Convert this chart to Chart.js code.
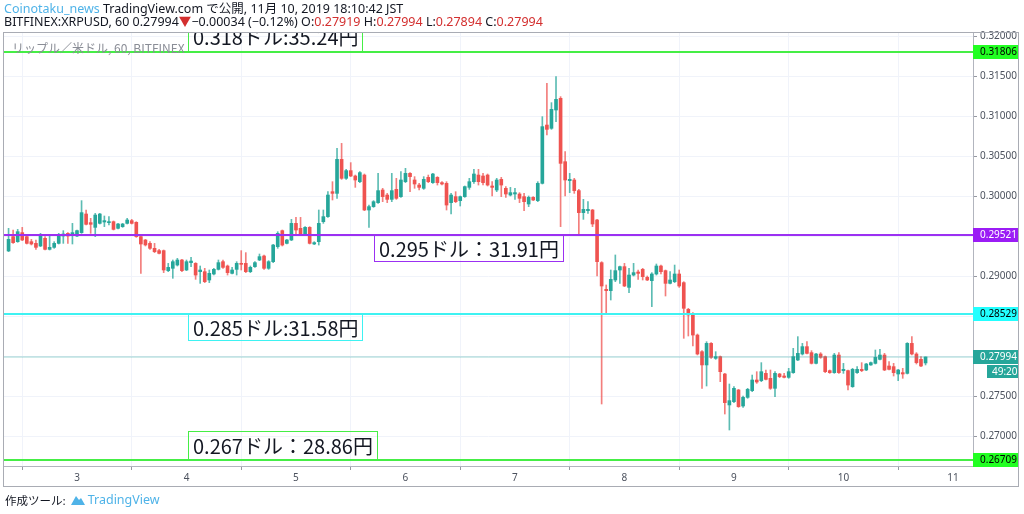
<!DOCTYPE html>
<html>
<head>
<meta charset="utf-8">
<script src="https://cdn.jsdelivr.net/npm/chart.js@4.4.0/dist/chart.umd.min.js"></script>
<style>
  body { margin: 0; background: #fff; }
  #wrap { position: relative; width: 1024px; height: 514px; overflow: hidden;
          font-family: "Noto Sans", "Noto Sans CJK JP", sans-serif; }
  #chart { position: absolute; left: 0; top: 0; }
  .line { position: absolute; left: 4px; font-size: 12.5px; line-height: 13px; color: #131722; white-space: nowrap; }
  .blue { color: #4fb3e8; }
  .red { color: #d32f2f; }
  .pane-title { position: absolute; left: 12px; top: 39px; font-size: 12px; color: #8a8d96; white-space: nowrap;
                font-family: "Noto Sans CJK JP", sans-serif; }
  .footer { position: absolute; left: 5px; top: 491px; font-size: 11.5px; color: #131722; white-space: nowrap;
            font-family: "Noto Sans CJK JP", sans-serif; display: flex; align-items: center; }
  .footer .tv { font-family: "Noto Sans", sans-serif; font-size: 12.5px; }
  .footer svg { margin: 0 2px 0 4px; }
</style>
</head>
<body>
<div id="wrap">
  <canvas id="chart" width="1024" height="514"></canvas>
  <div class="line" style="top:2px"><span class="blue">Coinotaku_news</span> TradingView.com で公開, 11月 10, 2019 18:10:42 JST</div>
  <div class="line" style="top:15px">BITFINEX:XRPUSD, 60 0.27994<span class="red">▼</span>−0.00034 (−0.12%) O:<span class="red">0.27919</span> H:<span class="red">0.27994</span> L:<span class="red">0.27894</span> C:<span class="red">0.27994</span></div>
  <div class="pane-title">リップル／米ドル, 60, BITFINEX</div>
  <div class="footer">作成ツール:<svg width="16" height="12" viewBox="0 0 16 12"><path d="M1 11 L6 2 L9 6 L11 4 L15 11 Z" fill="#4fb3e8"/></svg><span class="blue tv">TradingView</span></div>
</div>
<script>
// hourly candles, XRP/USD, from Nov 2 09:00 to Nov 10 18:00 (hour offsets from Nov 2 00:00)
const firstHour = 9;

const opens = [
  0.29319,0.29498,0.29435,0.29548,0.29498,0.29435,0.29414,0.29381,0.29477,0.29339,
  0.29364,0.29414,0.29506,0.29539,0.29519,0.29506,0.29548,0.29781,0.29673,0.29614,
  0.29664,0.29681,0.29673,0.29685,0.29602,0.29623,0.29664,0.29698,0.29677,0.29498,
  0.29456,0.29414,0.29352,0.29323,0.29323,0.29073,0.29102,0.29143,0.29206,0.29081,
  0.29173,0.29164,0.29060,0.29060,0.28956,0.29031,0.29089,0.29185,0.29131,0.29039,
  0.29089,0.29164,0.29164,0.29060,0.29123,0.29206,0.29256,0.29102,0.29185,0.29373,
  0.29573,0.29414,0.29456,0.29664,0.29602,0.29531,0.29614,0.29406,0.29435,0.29685,
  0.29748,0.30060,0.30039,0.30464,0.30227,0.30323,0.30256,0.30185,0.30268,0.29831,
  0.29873,0.29923,0.30081,0.30018,0.29964,0.30089,0.29998,0.30185,0.30289,0.30206,
  0.30143,0.30102,0.30239,0.30173,0.30239,0.30173,0.30164,0.29923,0.29998,0.29948,
  0.29998,0.30114,0.30185,0.30268,0.30256,0.30268,0.30131,0.30081,0.30214,0.30102,
  0.30018,0.30031,0.30031,0.29998,0.29906,0.29989,0.29948,0.30164,0.30893,0.30852,
  0.31081,0.31227,0.30435,0.30198,0.30206,0.30073,0.29798,0.29823,0.29831,0.29706,
  0.29173,0.28839,0.28823,0.28956,0.29081,0.29123,0.28864,0.29018,0.29056,0.29089,
  0.28989,0.28948,0.29031,0.29131,0.29073,0.28914,0.28935,0.29031,0.28923,0.28589,
  0.28539,0.28268,0.28060,0.27894,0.28164,0.27977,0.27998,0.27781,0.27394,0.27435,
  0.27581,0.27381,0.27489,0.27573,0.27706,0.27698,0.27789,0.27727,0.27602,0.27781,
  0.27756,0.27739,0.27798,0.27956,0.28031,0.28123,0.28048,0.27914,0.28031,0.27998,
  0.27823,0.27798,0.28018,0.27823,0.27823,0.27623,0.27798,0.27839,0.27831,0.27894,
  0.27914,0.27964,0.28018,0.27881,0.27873,0.27781,0.27798,0.27789,0.28164,0.28031,
  0.27964,0.27919
];
const highs = [
  0.29602,0.29581,0.29589,0.29614,0.29519,0.29464,0.29456,0.29539,0.29498,0.29506,
  0.29435,0.29539,0.29573,0.29548,0.29664,0.29581,0.29948,0.29831,0.29727,0.29789,
  0.29789,0.29756,0.29748,0.29694,0.29664,0.29664,0.29727,0.29714,0.29685,0.29506,
  0.29464,0.29435,0.29414,0.29339,0.29331,0.29164,0.29206,0.29227,0.29214,0.29206,
  0.29239,0.29173,0.29131,0.29102,0.29081,0.29102,0.29206,0.29206,0.29143,0.29114,
  0.29185,0.29323,0.29298,0.29131,0.29185,0.29281,0.29268,0.29198,0.29402,0.29560,
  0.29581,0.29464,0.29714,0.29739,0.29739,0.29623,0.29623,0.29435,0.29831,0.29831,
  0.30060,0.30185,0.30602,0.30664,0.30339,0.30423,0.30268,0.30310,0.30281,0.29893,
  0.29948,0.30289,0.30102,0.30039,0.30289,0.30227,0.30310,0.30352,0.30298,0.30248,
  0.30164,0.30248,0.30268,0.30289,0.30248,0.30185,0.30185,0.30039,0.30060,0.30006,
  0.30131,0.30227,0.30339,0.30339,0.30289,0.30281,0.30185,0.30227,0.30239,0.30123,
  0.30114,0.30102,0.30048,0.30039,0.30006,0.29998,0.30185,0.30998,0.31414,0.31173,
  0.31498,0.31248,0.30560,0.30289,0.30227,0.30089,0.29964,0.29935,0.29839,0.29714,
  0.29185,0.28894,0.29081,0.29269,0.29131,0.29164,0.29102,0.29164,0.29081,0.29102,
  0.29006,0.29048,0.29156,0.29143,0.29081,0.29060,0.29143,0.29081,0.28935,0.28602,
  0.28548,0.28281,0.28073,0.28185,0.28173,0.28060,0.28006,0.27789,0.27656,0.27623,
  0.27589,0.27506,0.27602,0.27768,0.27810,0.27923,0.27831,0.27831,0.27810,0.27789,
  0.27789,0.27852,0.28102,0.28248,0.28164,0.28185,0.28073,0.28039,0.28048,0.28006,
  0.27831,0.28039,0.28048,0.27914,0.27831,0.27852,0.27873,0.27923,0.27914,0.27931,
  0.28081,0.28089,0.28039,0.27935,0.27914,0.27839,0.27852,0.28173,0.28248,0.28048,
  0.27998,0.27994
];
const lows = [
  0.29310,0.29414,0.29427,0.29448,0.29406,0.29394,0.29339,0.29373,0.29331,0.29331,
  0.29352,0.29406,0.29414,0.29414,0.29406,0.29498,0.29539,0.29644,0.29539,0.29498,
  0.29656,0.29623,0.29644,0.29581,0.29594,0.29614,0.29656,0.29656,0.29489,0.29039,
  0.29381,0.29339,0.29298,0.29281,0.29048,0.29060,0.28977,0.29131,0.29060,0.29073,
  0.29123,0.28964,0.28914,0.28923,0.28923,0.29018,0.29081,0.29102,0.29018,0.29031,
  0.29018,0.29081,0.29048,0.29048,0.29114,0.29198,0.29089,0.29089,0.29173,0.29352,
  0.29381,0.29406,0.29448,0.29519,0.29519,0.29523,0.29406,0.29398,0.29393,0.29664,
  0.29739,0.29956,0.29977,0.30214,0.30214,0.30248,0.30114,0.30173,0.29823,0.29614,
  0.29864,0.29914,0.29935,0.29923,0.29935,0.29964,0.29989,0.30173,0.30060,0.30102,
  0.30081,0.30089,0.30173,0.30164,0.30143,0.30143,0.29831,0.29781,0.29923,0.29881,
  0.29989,0.30089,0.30164,0.30143,0.30143,0.30131,0.30006,0.30060,0.29998,0.29989,
  0.30006,0.29964,0.29923,0.29823,0.29873,0.29948,0.29935,0.30156,0.30769,0.30839,
  0.30935,0.29623,0.30006,0.30048,0.30039,0.29519,0.29714,0.29789,0.29623,0.29006,
  0.27406,0.28539,0.28706,0.28935,0.28914,0.28873,0.28798,0.29006,0.28964,0.28956,
  0.28948,0.28623,0.29018,0.29031,0.28756,0.28906,0.28923,0.28864,0.28227,0.28256,
  0.28131,0.28019,0.27602,0.27631,0.27977,0.27964,0.27685,0.27281,0.27081,0.27423,
  0.27364,0.27364,0.27477,0.27560,0.27664,0.27685,0.27706,0.27589,0.27498,0.27735,
  0.27731,0.27727,0.27789,0.27948,0.28018,0.28031,0.27906,0.27906,0.27977,0.27798,
  0.27789,0.27789,0.27789,0.27789,0.27581,0.27614,0.27789,0.27810,0.27823,0.27889,
  0.27906,0.27956,0.27823,0.27831,0.27756,0.27698,0.27727,0.27781,0.28018,0.27906,
  0.27873,0.27894
];
const closes = [
  0.29464,0.29423,0.29560,0.29456,0.29414,0.29406,0.29364,0.29506,0.29339,0.29364,
  0.29414,0.29506,0.29531,0.29506,0.29548,0.29573,0.29798,0.29652,0.29652,0.29768,
  0.29781,0.29698,0.29685,0.29589,0.29656,0.29656,0.29706,0.29664,0.29498,0.29406,
  0.29394,0.29352,0.29310,0.29289,0.29081,0.29114,0.29185,0.29206,0.29073,0.29185,
  0.29193,0.29018,0.29081,0.28935,0.29039,0.29089,0.29173,0.29114,0.29048,0.29081,
  0.29164,0.29152,0.29060,0.29114,0.29173,0.29248,0.29102,0.29185,0.29393,0.29539,
  0.29393,0.29456,0.29664,0.29581,0.29531,0.29614,0.29414,0.29423,0.29664,0.29748,
  0.30018,0.30039,0.30464,0.30227,0.30323,0.30256,0.30206,0.30298,0.29831,0.29873,
  0.29935,0.30073,0.29998,0.29964,0.30073,0.29977,0.30206,0.30289,0.30248,0.30156,
  0.30114,0.30214,0.30185,0.30281,0.30173,0.30156,0.29893,0.30018,0.29935,0.29998,
  0.30123,0.30185,0.30281,0.30185,0.30173,0.30143,0.30114,0.30206,0.30143,0.30031,
  0.30048,0.30048,0.29977,0.29935,0.29989,0.29956,0.30164,0.30873,0.30839,0.31089,
  0.31214,0.30414,0.30206,0.30214,0.30073,0.29798,0.29839,0.29839,0.29656,0.29185,
  0.28881,0.28823,0.28964,0.29073,0.29123,0.28881,0.29018,0.29048,0.29039,0.28998,
  0.28956,0.29031,0.29131,0.29060,0.28914,0.28956,0.29031,0.28881,0.28602,0.28519,
  0.28268,0.28031,0.27894,0.28164,0.27989,0.27998,0.27810,0.27423,0.27448,0.27602,
  0.27373,0.27489,0.27589,0.27706,0.27681,0.27810,0.27714,0.27602,0.27789,0.27748,
  0.27739,0.27810,0.27998,0.28039,0.28123,0.28039,0.27914,0.28031,0.27989,0.27810,
  0.27798,0.28018,0.27798,0.27839,0.27643,0.27839,0.27839,0.27823,0.27906,0.27923,
  0.27989,0.28018,0.27831,0.27839,0.27798,0.27831,0.27781,0.28164,0.28031,0.27923,
  0.27881,0.27994
];

// x axis: day ticks (hours since Nov 2 00:00) and their labels
const dayTicks = [24, 48, 72, 96, 120, 144, 168, 192, 216];
const dayLabels = ['3', '4', '5', '6', '7', '8', '9', '10', '11'];
// y axis ticks
const priceTicks = [0.27, 0.275, 0.28, 0.285, 0.29, 0.295, 0.30, 0.305, 0.31, 0.315, 0.32];

// horizontal levels drawn by the author
const levelPrices = [0.31806, 0.29521, 0.28529, 0.26709];
const levelColors = ['#45ee45', '#9b30f2', '#3ef2f2', '#45ee45'];
const levelLabelBg = ['#22ff22', '#9b1cf5', '#22ffff', '#22ff22'];
const levelLabelText = ['#000', '#fff', '#000', '#000'];
const noteTexts = ['0.318ドル:35.24円', '0.295ドル：31.91円', '0.285ドル:31.58円', '0.267ドル：28.86円'];
const noteHours = [48.3, 89.1, 48.3, 48.3];
const noteAbove = [true, false, false, true];
const noteHeights = [29, 26, 26, 28];

const lastPrice = 0.27994;
const countdown = '49:20';

const upColor = '#26a69a';
const downColor = '#ef5350';

const hours = opens.map((_, i) => firstHour + i);
const isUp = opens.map((o, i) => closes[i] >= o);
const bodyColors = isUp.map(u => u ? upColor : downColor);
const wickColors = isUp.map(u => u ? 'rgba(38,166,154,0.75)' : 'rgba(239,83,80,0.75)');

Chart.defaults.font.family = '"Noto Sans", sans-serif';

const levelsPlugin = {
  id: 'levels',
  afterDatasetsDraw(chart) {
    const {ctx, chartArea: a, scales: {x, y}} = chart;
    ctx.save();
    ctx.beginPath();
    ctx.rect(a.left, a.top, a.right - a.left, a.bottom - a.top);
    ctx.clip();

    // last price line
    const ly = Math.round(y.getPixelForValue(lastPrice));
    ctx.fillStyle = 'rgba(38,166,154,0.22)';
    ctx.fillRect(a.left, ly - 1, a.right - a.left, 2);

    levelPrices.forEach((p, i) => {
      const py = Math.round(y.getPixelForValue(p));
      ctx.fillStyle = levelColors[i];
      ctx.fillRect(a.left, py - 1, a.right - a.left, 2);

      ctx.font = '20px "Noto Sans CJK JP", sans-serif';
      const tw = ctx.measureText(noteTexts[i]).width;
      const bx = Math.round(x.getPixelForValue(noteHours[i])) + 0.5;
      const bw = Math.round(tw + 9);
      const bh = noteHeights[i];
      const by = noteAbove[i] ? py - 1 - bh : py;
      ctx.strokeStyle = levelColors[i];
      ctx.lineWidth = 1;
      ctx.strokeRect(bx, by + 0.5, bw, bh);
      ctx.fillStyle = '#131722';
      ctx.textBaseline = 'middle';
      ctx.textAlign = 'left';
      ctx.fillText(noteTexts[i], bx + 4.5, by + bh / 2 + 1);
    });
    ctx.restore();
  },
  afterDraw(chart) {
    const {ctx, chartArea: a, scales: {y}} = chart;
    ctx.save();
    ctx.font = '10px "Noto Sans", sans-serif';
    ctx.textBaseline = 'middle';
    ctx.textAlign = 'left';
    const tag = (price, bg, fg, text) => {
      const py = Math.round(y.getPixelForValue(price));
      ctx.fillStyle = bg;
      ctx.fillRect(a.right, py - 7, 45, 14);
      ctx.fillStyle = fg;
      ctx.fillText(text, a.right + 7, py + 0.5);
      return py;
    };
    levelPrices.forEach((p, i) => tag(p, levelLabelBg[i], levelLabelText[i], p.toFixed(5)));
    const py = tag(lastPrice, upColor, '#fff', lastPrice.toFixed(5));
    ctx.fillStyle = upColor;
    ctx.fillRect(a.right + 14, py + 8, 31, 13);
    ctx.fillStyle = '#fff';
    ctx.fillText(countdown, a.right + 19, py + 15);

    // pane frame
    ctx.strokeStyle = '#a9acb4';
    ctx.lineWidth = 1;
    ctx.strokeRect(3.5, a.top + 0.5, 1018 - 3, 486 - a.top);
    ctx.restore();
  }
};

new Chart(document.getElementById('chart'), {
  type: 'bar',
  data: {
    datasets: [
      {
        label: 'body',
        data: hours.map((h, i) => ({x: h, y: [opens[i], closes[i]]})),
        backgroundColor: bodyColors,
        barThickness: 3,
        minBarLength: 1,
        grouped: false
      },
      {
        label: 'wick',
        data: hours.map((h, i) => ({x: h, y: [lows[i], highs[i]]})),
        backgroundColor: wickColors,
        barThickness: 1,
        grouped: false
      }
    ]
  },
  options: {
    responsive: false,
    animation: false,
    layout: {padding: {left: 4, top: 32, right: 6, bottom: 28}},
    plugins: {legend: {display: false}, tooltip: {enabled: false}},
    scales: {
      x: {
        type: 'linear',
        min: 8,
        max: 220.4,
        offset: false,
        afterBuildTicks: s => { s.ticks = dayTicks.map(v => ({value: v})); },
        afterFit: s => { s.height = 20; },
        grid: {color: '#f0f3fa', tickLength: 4, tickColor: '#9598a1'},
        border: {color: '#b2b5be'},
        ticks: {
          font: {size: 10},
          color: '#4c525e',
          padding: 2,
          maxRotation: 0,
          autoSkip: false,
          callback: v => dayLabels[dayTicks.indexOf(v)]
        }
      },
      y: {
        position: 'right',
        min: 0.26631,
        max: 0.32056,
        afterBuildTicks: s => { s.ticks = priceTicks.map(v => ({value: v})); },
        afterFit: s => { s.width = 45; },
        grid: {color: '#f0f3fa', tickLength: 4, tickColor: '#9598a1'},
        border: {color: '#b2b5be'},
        ticks: {
          font: {size: 10},
          color: '#4c525e',
          padding: 3,
          callback: v => v.toFixed(5)
        }
      }
    }
  },
  plugins: [levelsPlugin]
});
</script>
</body>
</html>
